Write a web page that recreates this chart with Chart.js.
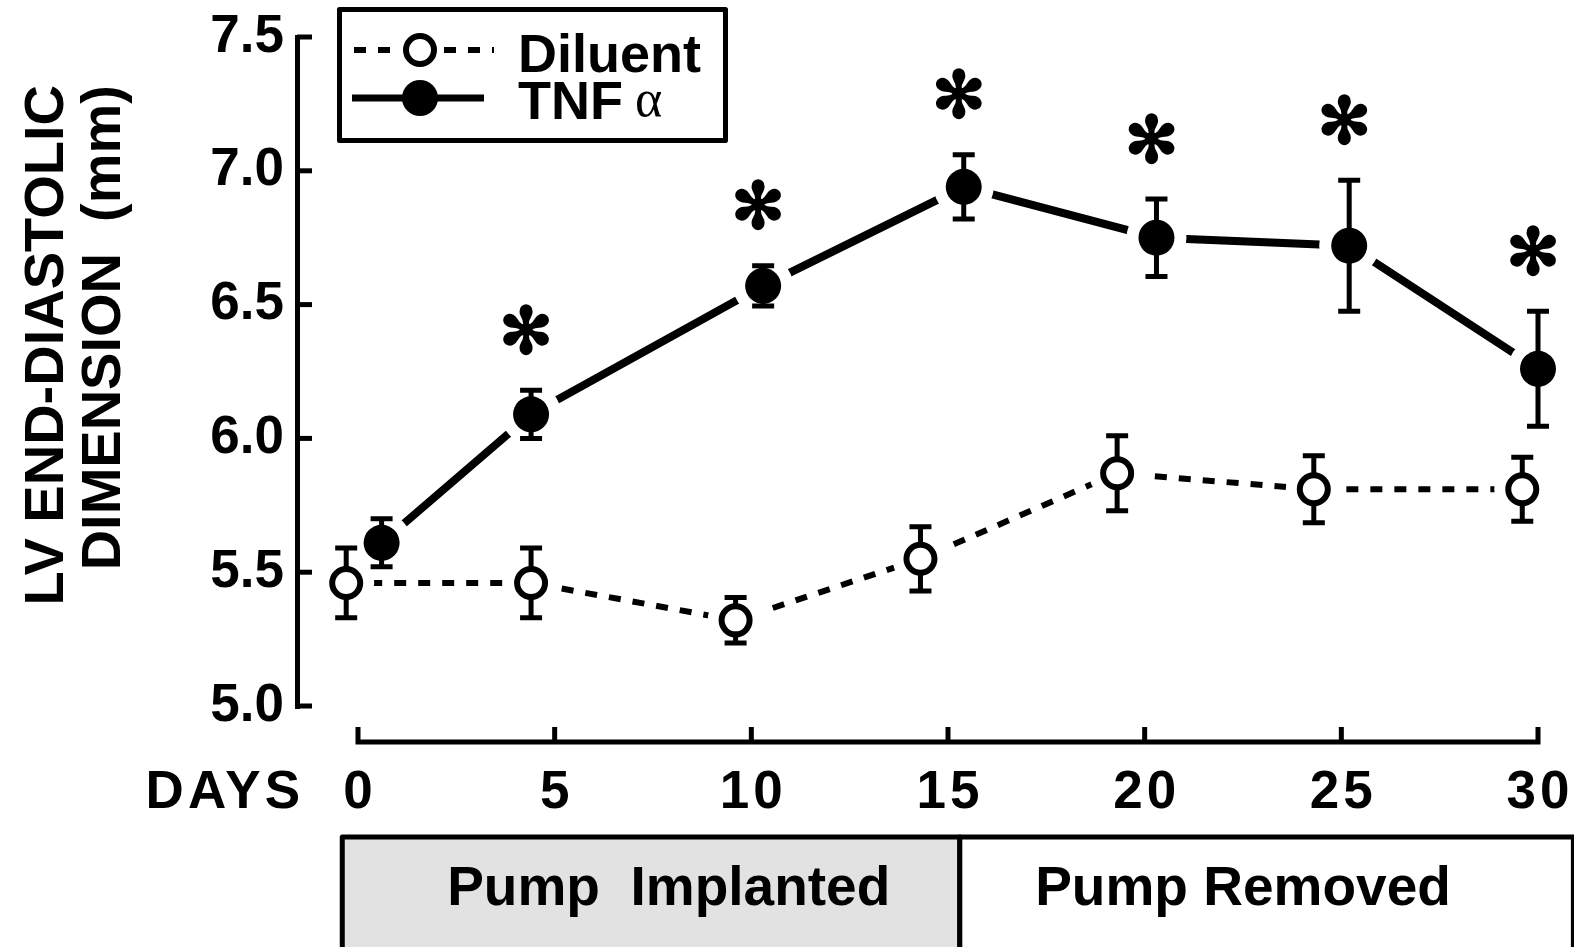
<!DOCTYPE html>
<html>
<head>
<meta charset="utf-8">
<script src="https://cdn.jsdelivr.net/npm/chart.js@4/dist/chart.umd.min.js"></script>
<style>
    html, body { margin: 0; padding: 0; background: #fff; }
    canvas { display: block; }
</style>
</head>
<body>
<canvas id="graph" width="1574" height="947"></canvas>
<script>
// Day ticks for the lower axis
const dayTicks = [0, 5, 10, 15, 20, 25, 30];

// Diluent group: day of measurement, mean, SEM (mm)
const diluentDays = [-0.3, 4.4, 9.6, 14.3, 19.3, 24.3, 29.6];
const diluentMean = [5.46, 5.46, 5.32, 5.55, 5.87, 5.81, 5.81];
const diluentSem  = [0.13, 0.13, 0.085, 0.12, 0.14, 0.125, 0.12];

// TNF alpha group
const tnfDays = [0.6, 4.4, 10.3, 15.4, 20.3, 25.2, 30.0];
const tnfMean = [5.61, 6.09, 6.57, 6.94, 6.75, 6.72, 6.26];
const tnfSem  = [0.09, 0.09, 0.075, 0.12, 0.145, 0.245, 0.215];
const tnfSignificant = [false, true, true, true, true, true, true];

// Treatment periods under the time axis (in days)
const phaseLabels = ['Pump  Implanted', 'Pump Removed'];
const phaseBounds = [-0.4, 15.3, 30.9];
const phaseLabelDays = [7.9, 22.5];

const FONT = "'Liberation Sans', Arial, Helvetica, sans-serif";
const INK = '#000';

// where day 0 and day 30 sit on the page
const DAY0_PX = 358;
const DAY30_PX = 1538;

const toPoints = (xs, ys) => xs.map((x, i) => ({ x: x, y: ys[i] }));

function drawErrorBars(chart, days, mean, sem) {
    const ctx = chart.ctx;
    const xs = chart.scales.x, ys = chart.scales.y;
    ctx.save();
    ctx.strokeStyle = INK;
    ctx.lineWidth = 5;
    ctx.lineCap = 'butt';
    for (let i = 0; i < days.length; i++) {
        const x = xs.getPixelForValue(days[i]);
        const top = ys.getPixelForValue(mean[i] + sem[i]);
        const bot = ys.getPixelForValue(mean[i] - sem[i]);
        ctx.beginPath();
        ctx.moveTo(x, top); ctx.lineTo(x, bot);
        ctx.moveTo(x - 11, top); ctx.lineTo(x + 11, top);
        ctx.moveTo(x - 11, bot); ctx.lineTo(x + 11, bot);
        ctx.stroke();
    }
    ctx.restore();
}

let barsDrawn = false;

const figureDecor = {
    id: 'figureDecor',
    beforeDatasetsDraw() {
        barsDrawn = false;
    },
    beforeDatasetDraw(chart, args) {
        // error bars go above the lines but under the markers
        if (!barsDrawn && chart.data.datasets[args.index].isMarker) {
            drawErrorBars(chart, diluentDays, diluentMean, diluentSem);
            drawErrorBars(chart, tnfDays, tnfMean, tnfSem);
            barsDrawn = true;
        }
    },
    afterDraw(chart) {
        const ctx = chart.ctx;
        const xs = chart.scales.x, ys = chart.scales.y;
        const area = chart.chartArea;
        ctx.save();
        ctx.fillStyle = INK;
        ctx.strokeStyle = INK;

        // inward tick marks on the y axis
        ctx.lineWidth = 5;
        ys.ticks.forEach(t => {
            const y = ys.getPixelForValue(t.value);
            ctx.beginPath();
            ctx.moveTo(area.left, y);
            ctx.lineTo(area.left + 15, y);
            ctx.stroke();
        });

        // y axis title, two lines, ending at the same height
        ctx.save();
        ctx.font = 'bold 56px ' + FONT;
        ctx.textAlign = 'right';
        ctx.textBaseline = 'middle';
        ctx.translate(48, 85);
        ctx.rotate(-Math.PI / 2);
        ctx.fillText('LV END-DIASTOLIC', 0, 0);
        ctx.fillText('DIMENSION  (mm)', 0, 57);
        ctx.restore();

        // lower day axis
        const axisY = 742;
        const x0 = xs.getPixelForValue(dayTicks[0]);
        const x1 = xs.getPixelForValue(dayTicks[dayTicks.length - 1]);
        ctx.lineWidth = 5;
        ctx.beginPath();
        ctx.moveTo(x0 - 2.5, axisY);
        ctx.lineTo(x1 + 2.5, axisY);
        dayTicks.forEach(d => {
            const x = xs.getPixelForValue(d);
            ctx.moveTo(x, axisY);
            ctx.lineTo(x, axisY - 15);
        });
        ctx.stroke();

        ctx.font = 'bold 53px ' + FONT;
        ctx.textBaseline = 'middle';
        ctx.letterSpacing = '4px';
        ctx.textAlign = 'center';
        dayTicks.forEach(d => {
            ctx.fillText(String(d), xs.getPixelForValue(d) + 2, 793);
        });
        ctx.textAlign = 'right';
        ctx.fillText('DAYS', 304, 793);
        ctx.letterSpacing = '0px';

        // significance marks above the TNF error bars
        ctx.font = '64px "DejaVu Sans", sans-serif';
        ctx.textAlign = 'center';
        ctx.textBaseline = 'middle';
        ctx.lineWidth = 2.5;
        ctx.lineJoin = 'round';
        tnfDays.forEach((d, i) => {
            if (!tnfSignificant[i]) return;
            const top = ys.getPixelForValue(tnfMean[i] + tnfSem[i]);
            const x = xs.getPixelForValue(d) - 5;
            ctx.fillText('\u273B', x, top - 54);
            ctx.strokeText('\u273B', x, top - 54);
        });

        // treatment period boxes
        const boxTop = 837;
        for (let i = 0; i < phaseLabels.length; i++) {
            const a = xs.getPixelForValue(phaseBounds[i]);
            const b = xs.getPixelForValue(phaseBounds[i + 1]);
            ctx.fillStyle = i === 0 ? '#e2e2e2' : '#fff';
            ctx.fillRect(a, boxTop, b - a, 120);
            ctx.lineWidth = 5;
            ctx.strokeRect(a, boxTop, b - a, 120);
            ctx.fillStyle = INK;
            ctx.font = 'bold 55px ' + FONT;
            ctx.textAlign = 'center';
            ctx.textBaseline = 'middle';
            ctx.fillText(phaseLabels[i], xs.getPixelForValue(phaseLabelDays[i]), 890);
        }

        // legend
        ctx.lineWidth = 5;
        ctx.strokeRect(339.5, 9.5, 386, 131);
        // diluent entry
        ctx.save();
        ctx.lineWidth = 6;
        ctx.setLineDash([12, 12]);
        ctx.beginPath();
        ctx.moveTo(354, 50); ctx.lineTo(398, 50);
        ctx.moveTo(444, 50); ctx.lineTo(494, 50);
        ctx.stroke();
        ctx.restore();
        ctx.beginPath();
        ctx.arc(420, 50, 14, 0, Math.PI * 2);
        ctx.fillStyle = '#fff';
        ctx.fill();
        ctx.lineWidth = 6;
        ctx.stroke();
        // TNF entry
        ctx.fillStyle = INK;
        ctx.lineWidth = 7;
        ctx.beginPath();
        ctx.moveTo(352, 98); ctx.lineTo(484, 98);
        ctx.stroke();
        ctx.beginPath();
        ctx.arc(420, 98, 18, 0, Math.PI * 2);
        ctx.fill();

        ctx.font = 'bold 54px ' + FONT;
        ctx.textAlign = 'left';
        ctx.textBaseline = 'alphabetic';
        ctx.fillText('Diluent', 518, 72);
        ctx.fillText('TNF', 518, 119);
        const tnfW = ctx.measureText('TNF').width;
        ctx.font = '52px "Liberation Serif", "Times New Roman", serif';
        ctx.fillText('\u03B1', 518 + tnfW + 12, 116);

        ctx.restore();
    }
};

const chart = new Chart(document.getElementById('graph'), {
    type: 'line',
    data: {
        datasets: [
            {
                label: 'Diluent',
                data: toPoints(diluentDays, diluentMean),
                borderColor: INK,
                borderWidth: 6,
                borderDash: [12, 12],
                pointRadius: 28,
                pointBackgroundColor: '#fff',
                pointBorderWidth: 0,
                order: 3,
                clip: false
            },
            {
                label: 'TNF \u03B1',
                data: toPoints(tnfDays, tnfMean),
                borderColor: INK,
                borderWidth: 8,
                pointRadius: 30,
                pointBackgroundColor: '#fff',
                pointBorderWidth: 0,
                order: 3,
                clip: false
            },
            {
                label: 'Diluent',
                isMarker: true,
                data: toPoints(diluentDays, diluentMean),
                showLine: false,
                pointRadius: 14,
                pointBackgroundColor: '#fff',
                pointBorderColor: INK,
                pointBorderWidth: 6,
                order: 1,
                clip: false
            },
            {
                label: 'TNF \u03B1',
                isMarker: true,
                data: toPoints(tnfDays, tnfMean),
                showLine: false,
                pointRadius: 18,
                pointBackgroundColor: INK,
                pointBorderWidth: 0,
                order: 1,
                clip: false
            }
        ]
    },
    options: {
        responsive: false,
        animation: false,
        events: [],
        layout: { padding: { top: 37, bottom: 241, left: 0, right: 5 } },
        plugins: {
            legend: { display: false },
            tooltip: { enabled: false }
        },
        scales: {
            x: {
                type: 'linear',
                display: false,
                min: -1.5,
                max: 31
            },
            y: {
                min: 5,
                max: 7.5,
                afterFit: scale => { scale.width = 297; },
                border: { display: true, color: INK, width: 5 },
                grid: { display: false, drawTicks: false, lineWidth: 5 },
                ticks: {
                    stepSize: 0.5,
                    padding: 13,
                    color: INK,
                    font: { family: FONT, size: 53, weight: 'bold', lineHeight: 0.8 },
                    callback: v => v.toFixed(1)
                }
            }
        }
    },
    plugins: [figureDecor]
});

// fit the day range to the plot area so day 0 and day 30 land on the axis ends
const area = chart.chartArea;
const pxPerDay = (DAY30_PX - DAY0_PX) / 30;
chart.options.scales.x.min = -(DAY0_PX - area.left) / pxPerDay;
chart.options.scales.x.max = (area.right - DAY0_PX) / pxPerDay;
chart.update();
</script>
</body>
</html>
